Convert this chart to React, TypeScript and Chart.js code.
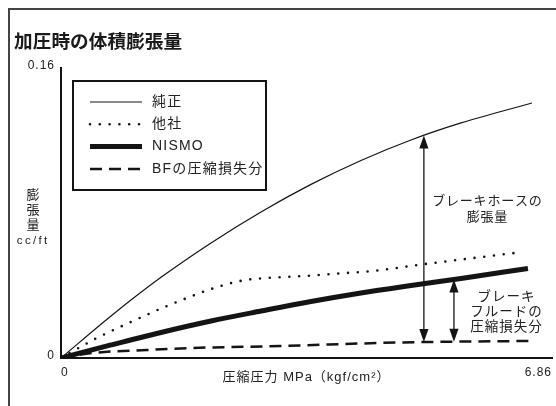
import React, { useEffect, useRef } from 'react';
import { Chart, registerables } from 'chart.js';

Chart.register(...registerables);

const FONT = "'Liberation Sans', 'Noto Sans CJK JP', sans-serif";
const CJK = "'Noto Sans CJK JP', 'Liberation Sans', sans-serif";
const INK = '#141414';
const TEXT = '#222222';

// ---- data ----
const TITLE = '加圧時の体積膨張量';
const X_TITLE = '圧縮圧力 MPa（kgf/cm²）';
const Y_TITLE_CHARS = ['膨', '張', '量'];
const Y_UNIT = 'cc/ft';
const X_MIN = 0;
const X_MAX = 6.86;
const Y_MIN = 0;
const Y_MAX = 0.16;
const X_TICKS = [0, 6.86];
const Y_TICKS = [0, 0.16];

const SERIES_LABELS = ['純正', '他社', 'NISMO', 'BFの圧縮損失分'];

const JUNSEI_X = [0, 0.699, 1.397, 2.096, 2.794, 3.493, 4.191, 4.89, 5.589, 6.58];
const JUNSEI_Y = [0, 0.0232, 0.0445, 0.0635, 0.0806, 0.0958, 0.109, 0.1203, 0.1297, 0.1407];

const TASHA_X = [0, 0.475, 0.978, 1.481, 1.76, 2.124, 2.543, 2.822, 3.381, 3.94, 4.359, 5.057, 5.854, 6.455];
const TASHA_Y = [0, 0.0105, 0.0199, 0.0287, 0.0331, 0.0384, 0.0428, 0.044, 0.0452, 0.0468, 0.048, 0.0517, 0.0556, 0.0585];

const NISMO_X = [0, 0.699, 1.397, 2.096, 2.794, 3.493, 4.191, 4.89, 5.589, 6.524];
const NISMO_Y = [0, 0.0072, 0.0141, 0.0204, 0.0259, 0.0312, 0.0359, 0.04, 0.0439, 0.0494];

const BF_X = [0, 0.447, 1.202, 1.802, 3.06, 4.457, 5.057, 6.58];
const BF_Y = [0, 0.0028, 0.0044, 0.0055, 0.0066, 0.0083, 0.0088, 0.0094];

// annotation arrows: x position, series index at top, series index at bottom
const ARROW_X = [5.07, 5.49];
const ARROW_TOP_SERIES = [0, 2];
const ARROW_BOTTOM_SERIES = [3, 3];
const HOSE_NOTE = ['ブレーキホースの', '膨張量'];
const FLUID_NOTE = ['ブレーキ', 'フルードの', '圧縮損失分'];

const SERIES_X = [JUNSEI_X, TASHA_X, NISMO_X, BF_X];
const SERIES_Y = [JUNSEI_Y, TASHA_Y, NISMO_Y, BF_Y];

function interp(xs: number[], ys: number[], x: number): number {
  for (let i = 1; i < xs.length; i++) {
    if (x <= xs[i]) {
      const t = (x - xs[i - 1]) / (xs[i] - xs[i - 1]);
      return ys[i - 1] + t * (ys[i] - ys[i - 1]);
    }
  }
  return ys[ys.length - 1];
}

function toPoints(xs: number[], ys: number[]) {
  return xs.map((x, i) => ({ x, y: ys[i] }));
}

function text(
  ctx: CanvasRenderingContext2D,
  s: string,
  x: number,
  y: number,
  font: string,
  align: CanvasTextAlign,
  spacing: number
) {
  (ctx as any).letterSpacing = spacing + 'px';
  ctx.font = font;
  ctx.textAlign = align;
  ctx.textBaseline = 'middle';
  const dx = align === 'center' ? spacing / 2 : align === 'right' ? spacing : 0;
  ctx.fillText(s, x + dx, y);
}

function drawArrow(ctx: CanvasRenderingContext2D, x: number, yTop: number, yBot: number) {
  const L = 13;
  const W = 4.6;
  ctx.lineWidth = 1.3;
  ctx.setLineDash([]);
  ctx.beginPath();
  ctx.moveTo(x, yTop + L - 1);
  ctx.lineTo(x, yBot - L + 1);
  ctx.stroke();
  ctx.beginPath();
  ctx.moveTo(x, yTop);
  ctx.lineTo(x - W, yTop + L);
  ctx.lineTo(x + W, yTop + L);
  ctx.closePath();
  ctx.fill();
  ctx.beginPath();
  ctx.moveTo(x, yBot);
  ctx.lineTo(x - W, yBot - L);
  ctx.lineTo(x + W, yBot - L);
  ctx.closePath();
  ctx.fill();
}

const spacingPlugin = {
  id: 'spacing',
  beforeDraw(chart: any) {
    (chart.ctx as any).letterSpacing = '1px';
  },
};

const decorPlugin = {
  id: 'decor',
  afterDatasetsDraw(chart: any) {
    const ctx: CanvasRenderingContext2D = chart.ctx;
    const xs = chart.scales.x;
    const ys = chart.scales.y;
    ctx.save();
    ctx.strokeStyle = INK;
    ctx.fillStyle = INK;

    ARROW_X.forEach((ax, i) => {
      const ti = ARROW_TOP_SERIES[i];
      const bi = ARROW_BOTTOM_SERIES[i];
      const px = xs.getPixelForValue(ax);
      const yTop = ys.getPixelForValue(interp(SERIES_X[ti], SERIES_Y[ti], ax));
      const yBot = ys.getPixelForValue(interp(SERIES_X[bi], SERIES_Y[bi], ax));
      drawArrow(ctx, px, yTop, yBot);
    });

    ctx.fillStyle = TEXT;
    HOSE_NOTE.forEach((s, i) => text(ctx, s, 479, 192 + i * 16, `13px ${CJK}`, 'center', 0.8));
    FLUID_NOTE.forEach((s, i) => text(ctx, s, 498, 288 + i * 15, `13.5px ${CJK}`, 'center', 1));

    // legend box
    ctx.strokeStyle = INK;
    ctx.lineWidth = 2;
    ctx.setLineDash([]);
    ctx.strokeRect(65, 73, 193, 109);
    chart.data.datasets.forEach((ds: any, i: number) => {
      const y = 94 + i * 22.3;
      ctx.save();
      ctx.strokeStyle = ds.borderColor;
      ctx.lineWidth = ds.borderWidth;
      ctx.setLineDash(ds.borderDash || []);
      ctx.lineCap = ds.borderCapStyle || 'butt';
      ctx.beginPath();
      ctx.moveTo(82, y);
      ctx.lineTo(134, y);
      ctx.stroke();
      ctx.restore();
      ctx.fillStyle = TEXT;
      text(ctx, ds.label, 144, y, `14px ${FONT}`, 'left', 1.2);
    });

    // title
    ctx.fillStyle = '#1a1a1a';
    text(ctx, TITLE, 6, 33, `bold 18.6px ${CJK}`, 'left', 0.1);

    // y axis title
    ctx.fillStyle = TEXT;
    Y_TITLE_CHARS.forEach((c, i) => text(ctx, c, 25, 186 + i * 15, `13px ${CJK}`, 'center', 0));
    text(ctx, Y_UNIT, 24, 233, `11.5px ${FONT}`, 'center', 2.3);

    ctx.restore();
  },
};

export default function App() {
  const ref = useRef<HTMLCanvasElement>(null);
  useEffect(() => {
    document.documentElement.style.overflow = 'hidden';
    document.body.style.overflow = 'hidden';
    const canvas = ref.current;
    if (!canvas) return;
    const styles = [
      { borderWidth: 1.2, borderDash: [] as number[], borderCapStyle: 'butt' },
      { borderWidth: 2.6, borderDash: [0, 9.8], borderCapStyle: 'round' },
      { borderWidth: 5, borderDash: [] as number[], borderCapStyle: 'butt' },
      { borderWidth: 2.5, borderDash: [12, 7], borderCapStyle: 'butt' },
    ];
    const chart = new Chart(canvas, {
      type: 'line',
      data: {
        datasets: SERIES_LABELS.map((label, i) => ({
          label,
          data: toPoints(SERIES_X[i], SERIES_Y[i]),
          borderColor: INK,
          backgroundColor: INK,
          fill: false,
          pointRadius: 0,
          cubicInterpolationMode: 'monotone' as const,
          borderWidth: styles[i].borderWidth,
          borderDash: styles[i].borderDash,
          borderCapStyle: styles[i].borderCapStyle as CanvasLineCap,
          borderJoinStyle: 'round' as const,
        })),
      },
      options: {
        animation: false,
        responsive: false,
        devicePixelRatio: 1,
        layout: { padding: { left: 0, right: 4, top: 60, bottom: 0 } },
        plugins: {
          legend: { display: false },
          tooltip: { enabled: false },
          title: { display: false },
        },
        scales: {
          x: {
            type: 'linear',
            min: X_MIN,
            max: X_MAX,
            grid: { display: false, drawTicks: false },
            border: { display: true, color: INK, width: 2 },
            afterBuildTicks: (s: any) => {
              s.ticks = X_TICKS.map((v) => ({ value: v }));
            },
            afterFit: (s: any) => {
              s.height = 48;
              s.paddingLeft = 0;
              s.paddingRight = 0;
            },
            ticks: {
              align: 'inner',
              padding: 7,
              color: TEXT,
              maxRotation: 0,
              autoSkip: false,
              font: { family: FONT, size: 12 },
              callback: (v: any) => String(v),
            },
            title: {
              display: true,
              text: X_TITLE,
              color: TEXT,
              font: { family: FONT, size: 13 },
              padding: { top: 0, bottom: 21 },
            },
          },
          y: {
            type: 'linear',
            min: Y_MIN,
            max: Y_MAX,
            grid: { display: false, drawTicks: false },
            border: { display: true, color: INK, width: 2 },
            afterBuildTicks: (s: any) => {
              s.ticks = Y_TICKS.map((v) => ({ value: v }));
            },
            afterFit: (s: any) => {
              s.width = 53;
              s.paddingTop = 0;
              s.paddingBottom = 0;
            },
            ticks: {
              padding: 6,
              labelOffset: -2,
              color: TEXT,
              autoSkip: false,
              font: { family: FONT, size: 12 },
              callback: (v: any) => (Number(v) === 0 ? '0' : Number(v).toFixed(2)),
            },
          },
        },
      } as any,
      plugins: [spacingPlugin, decorPlugin],
    });
    return () => chart.destroy();
  }, []);

  return (
    <div style={{ position: 'fixed', left: 8, top: 8, width: 548, height: 398, background: '#fff' }}>
      <canvas ref={ref} width={548} height={398} style={{ display: 'block', width: 548, height: 398 }} />
      <div
        style={{
          position: 'absolute',
          left: 0,
          top: 0,
          width: 548,
          height: 398,
          borderTop: '2px solid #444',
          borderLeft: '2px solid #444',
          boxSizing: 'border-box',
          pointerEvents: 'none',
        }}
      />
    </div>
  );
}
